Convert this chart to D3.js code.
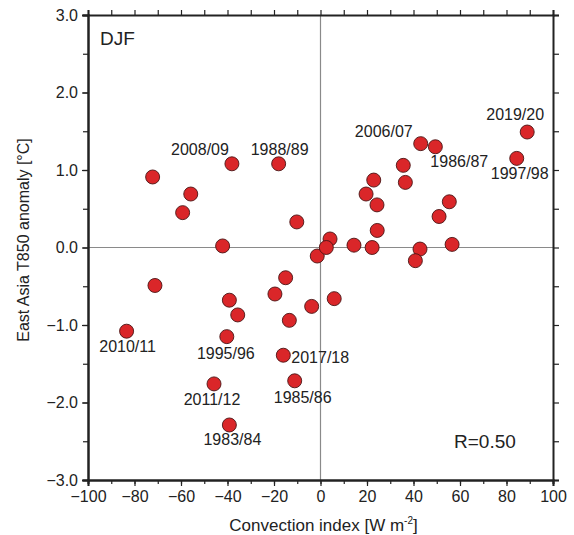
<!DOCTYPE html>
<html>
<head>
<meta charset="utf-8">
<script src="https://cdn.jsdelivr.net/npm/d3@7"></script>
<style>
  body { margin: 0; background: #fff; }
  svg text { font-family: "Liberation Sans", Arial, sans-serif; fill: #222; }
</style>
</head>
<body>
<div id="chart"></div>
<script>
// convection index [W m-2] and East Asia T850 anomaly [degC], one entry per winter
const convection = [-72.2, -55.8, -59.3, -38.1, -18.0, -42.1, -10.2, -71.2, -83.4, -39.2,
    -35.6, -40.3, -45.8, -39.2, -15.0, -19.6, -13.4, -16.0, -11.1, -3.8, -1.4,
    5.9, 88.9, 84.4, 43.1, 49.4, 35.6, 36.5, 22.9, 19.6, 24.3, 55.4, 51.0, 24.4,
    4.1, 2.5, 14.4, 22.2, 42.8, 56.6, 40.8];
const t850 = [0.91, 0.69, 0.45, 1.08, 1.08, 0.02, 0.33, -0.49, -1.08, -0.68,
    -0.87, -1.15, -1.76, -2.29, -0.39, -0.60, -0.94, -1.39, -1.72, -0.76, -0.11,
    -0.66, 1.49, 1.15, 1.34, 1.30, 1.06, 0.84, 0.87, 0.69, 0.55, 0.59, 0.40, 0.22,
    0.11, 0.00, 0.03, 0.00, -0.02, 0.04, -0.17];
const winters = ["", "", "", "2008/09", "1988/89", "", "", "", "2010/11", "",
    "", "1995/96", "2011/12", "1983/84", "", "", "", "2017/18", "1985/86", "", "",
    "", "2019/20", "1997/98", "2006/07", "1986/87", "", "", "", "", "", "", "", "",
    "", "", "", "", "", "", ""];

const xTicks = [-100, -80, -60, -40, -20, 0, 20, 40, 60, 80, 100];
const yTicks = [-3, -2, -1, 0, 1, 2, 3];

// label placement next to each named winter: [dx, dy, anchor]
const labelPos = {
    "2008/09": [-3, -9, "end"],
    "1988/89": [1, -9, "middle"],
    "2010/11": [1, 21, "middle"],
    "1995/96": [-1, 22, "middle"],
    "2011/12": [-2, 21, "middle"],
    "1983/84": [3, 20, "middle"],
    "2017/18": [8, 8, "start"],
    "1985/86": [8, 22, "middle"],
    "2019/20": [-12, -12, "middle"],
    "1997/98": [3, 21, "middle"],
    "2006/07": [-8, -7, "end"],
    "1986/87": [-5, 20, "start"]
};

const width = 574, height = 535;
const margin = {top: 15, right: 21, bottom: 55, left: 88};

const svg = d3.select("#chart").append("svg")
    .attr("width", width)
    .attr("height", height);

const x = d3.scaleLinear().domain([-100, 100]).range([margin.left, width - margin.right]);
const y = d3.scaleLinear().domain([-3, 3]).range([height - margin.bottom, margin.top]);

// zero lines
svg.append("line")
    .attr("x1", x(0)).attr("x2", x(0))
    .attr("y1", y(3)).attr("y2", y(-3))
    .attr("stroke", "#8a8a8a").attr("stroke-width", 1.2);
svg.append("line")
    .attr("x1", x(-100)).attr("x2", x(100))
    .attr("y1", y(0)).attr("y2", y(0))
    .attr("stroke", "#8a8a8a").attr("stroke-width", 1.2);

const minorX = d3.range(-100, 101, 10);
const minorY = d3.range(-3, 3.01, 0.5);

function styleAxis(g) {
    g.select(".domain").attr("stroke", "#222").attr("stroke-width", 2);
    g.selectAll(".tick line").attr("stroke", "#222").attr("stroke-width", 1.2);
    g.selectAll(".tick text").attr("font-size", 16).attr("fill", "#222")
        .style("font-family", "'Liberation Sans', Arial, sans-serif");
}

// bottom
svg.append("g")
    .attr("transform", `translate(0,${y(-3)})`)
    .call(d3.axisBottom(x).tickValues(minorX).tickSize(4).tickFormat(""))
    .call(styleAxis);
svg.append("g")
    .attr("transform", `translate(0,${y(-3)})`)
    .call(d3.axisBottom(x).tickValues(xTicks).tickSize(6).tickPadding(5)
        .tickFormat(d => d3.format("d")(d).replace("-", "\u2212")))
    .call(styleAxis);

// top
svg.append("g")
    .attr("transform", `translate(0,${y(3)})`)
    .call(d3.axisTop(x).tickValues(minorX).tickSize(5).tickFormat(""))
    .call(styleAxis);

// left
svg.append("g")
    .attr("transform", `translate(${x(-100)},0)`)
    .call(d3.axisLeft(y).tickValues(minorY).tickSize(5).tickFormat(""))
    .call(styleAxis);
svg.append("g")
    .attr("transform", `translate(${x(-100)},0)`)
    .call(d3.axisLeft(y).tickValues(yTicks).tickSize(6).tickPadding(4)
        .tickFormat(d => d3.format(".1f")(d).replace("-", "\u2212")))
    .call(styleAxis);

// right
svg.append("g")
    .attr("transform", `translate(${x(100)},0)`)
    .call(d3.axisRight(y).tickValues(minorY).tickSize(6).tickFormat(""))
    .call(styleAxis);

const pts = convection.map((c, i) => ({c, t: t850[i], w: winters[i]}));

// points
svg.append("g").selectAll("circle")
    .data(pts)
    .enter().append("circle")
    .attr("cx", d => x(d.c))
    .attr("cy", d => y(d.t))
    .attr("r", 7)
    .attr("fill", "#da2629")
    .attr("stroke", "#4a1414")
    .attr("stroke-width", 0.9);

// winter labels
svg.append("g").selectAll("text")
    .data(pts.filter(d => d.w))
    .enter().append("text")
    .attr("x", d => x(d.c) + labelPos[d.w][0])
    .attr("y", d => y(d.t) + labelPos[d.w][1])
    .attr("text-anchor", d => labelPos[d.w][2])
    .attr("font-size", 16)
    .text(d => d.w);

svg.append("text")
    .attr("x", 100).attr("y", 45)
    .attr("font-size", 19)
    .text("DJF");

svg.append("text")
    .attr("x", 454).attr("y", 448)
    .attr("font-size", 19)
    .text("R=0.50");

// axis titles
const xt = svg.append("text")
    .attr("x", x(0) + 3).attr("y", 531)
    .attr("text-anchor", "middle")
    .attr("font-size", 17)
    .text("Convection index [W m");
xt.append("tspan").attr("font-size", 10).attr("dy", -7).text("-2");
xt.append("tspan").attr("dy", 7).text("]");

svg.append("text")
    .attr("transform", "translate(29,240) rotate(-90)")
    .attr("text-anchor", "middle")
    .attr("font-size", 16)
    .text("East Asia T850 anomaly [\u00b0C]");
</script>
</body>
</html>
